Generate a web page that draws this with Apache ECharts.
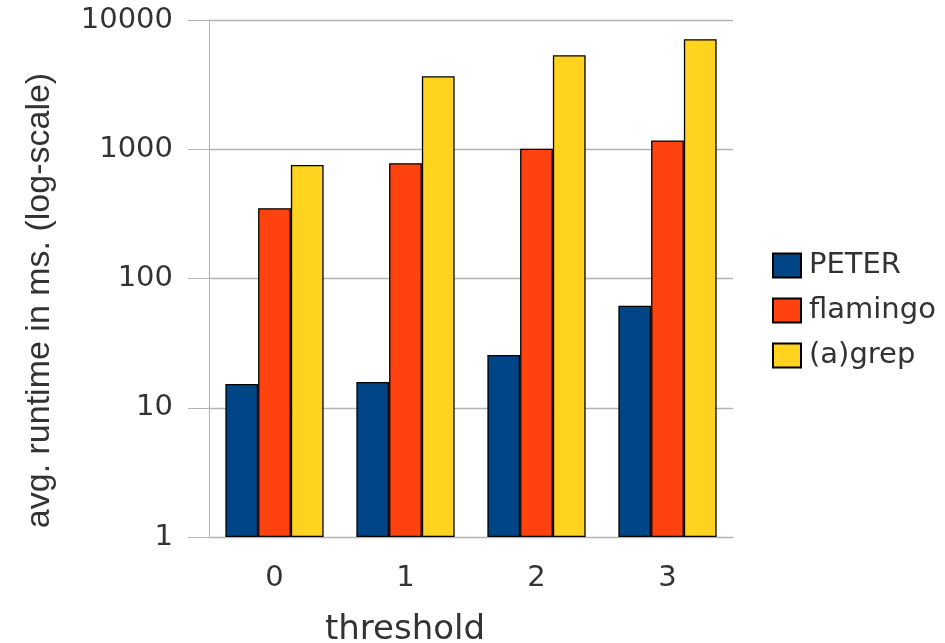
<!DOCTYPE html>
<html>
<head>
<meta charset="utf-8">
<script src="https://cdn.jsdelivr.net/npm/echarts@6/dist/echarts.min.js"></script>
<style>
  html, body { margin: 0; padding: 0; background: #fff; }
  #chart { width: 945px; height: 643px; }
</style>
</head>
<body>
<div id="chart"></div>
<script>
// values
const thresholds = ['0', '1', '2', '3']
const peter = [15.3, 15.8, 25.6, 61.6]
const flamingo = [350, 780, 1010, 1170]
const agrep = [755, 3670, 5330, 7100]

const gridColor = '#b3b3b3'
const textColor = '#333333'

const barSeries = function (name, data, color) {
  return {
    name: name,
    type: 'bar',
    data: data,
    barGap: 0,
    barCategoryGap: '25%',
    itemStyle: {
      color: color,
      borderColor: '#000',
      borderWidth: 1.3
    }
  }
}

const options = {
  animation: false,
  grid: {
    left: 209,
    right: 212,
    top: 20,
    bottom: 106,
    containLabel: false,
    outerBoundsMode: 'none'
  },
  legend: {
    orient: 'vertical',
    left: 772,
    top: 251,
    padding: 0,
    icon: 'rect',
    itemWidth: 28,
    itemHeight: 24,
    itemGap: 16,
    textStyle: {
      fontFamily: 'DejaVu Sans',
      fontSize: 29,
      color: textColor,
      lineHeight: 24,
      padding: [0, 0, 0, 3]
    }
  },
  xAxis: {
    type: 'category',
    data: thresholds,
    name: 'threshold',
    nameLocation: 'middle',
    nameGap: 76,
    nameTextStyle: {
      fontFamily: 'DejaVu Sans',
      fontSize: 34,
      color: textColor,
      padding: [0, 132, 0, 0]
    },
    axisLine: { lineStyle: { color: gridColor } },
    axisTick: { length: 15, lineStyle: { color: gridColor } },
    axisLabel: {
      fontFamily: 'DejaVu Sans',
      fontSize: 29,
      color: textColor,
      margin: 27
    }
  },
  yAxis: {
    type: 'log',
    logBase: 10,
    min: 1,
    max: 10000,
    name: 'avg. runtime in ms. (log-scale)',
    nameLocation: 'middle',
    nameRotate: 90,
    nameGap: 152,
    nameTextStyle: {
      fontFamily: 'Liberation Sans',
      fontSize: 34,
      color: textColor,
      padding: [0, 44, 0, 0]
    },
    axisLine: { show: true, lineStyle: { color: gridColor } },
    axisTick: { show: true, length: 21, lineStyle: { color: gridColor } },
    splitLine: { show: true, lineStyle: { color: gridColor, width: 1.3 } },
    minorTick: { show: false },
    axisLabel: {
      fontFamily: 'DejaVu Sans',
      fontSize: 29,
      color: textColor,
      margin: 36,
      formatter: function (v) { return String(v) }
    }
  },
  series: [
    barSeries('PETER', peter, '#004586'),
    barSeries('flamingo', flamingo, '#ff420e'),
    barSeries('(a)grep', agrep, '#ffd320')
  ]
}

const thisChart = echarts.init(document.getElementById('chart'))
thisChart.setOption(options)
</script>
</body>
</html>
